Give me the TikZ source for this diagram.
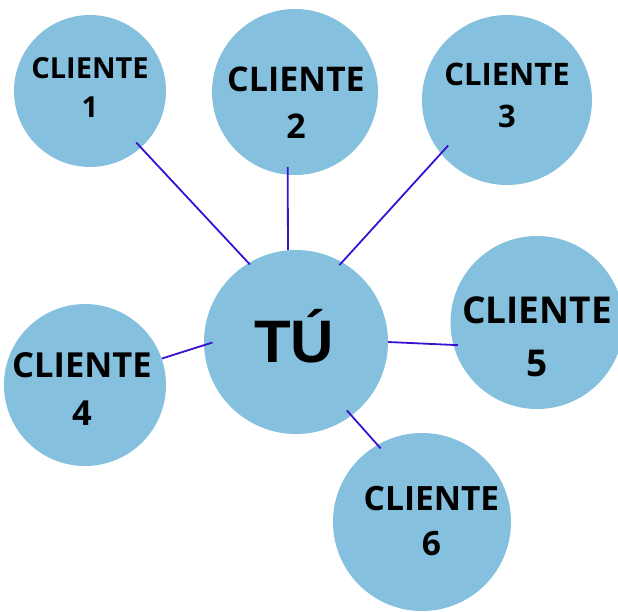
\documentclass[tikz,border=0pt]{standalone}
\usepackage{fontspec}
\setmainfont{Open Sans}
\newfontfamily\tufont{Liberation Sans}
\definecolor{bubblecol}{RGB}{133,193,222}
\definecolor{linkcol}{RGB}{58,16,210}
\begin{document}
\begin{tikzpicture}[x=1pt,y=-1pt,
  bub/.style={circle,fill=bubblecol,inner sep=0pt,minimum size=#1},
  lnk/.style={draw=linkcol,line width=1.8pt},
  ctext/.style 2 args={font=\bfseries\fontsize{#1}{#2}\selectfont,align=center,inner sep=0pt}]
\useasboundingbox (0,0) rectangle (618,611);
\node[bub=152pt] (c1) at (90,91) {};
\node[bub=166pt] (c2) at (295,92) {};
\node[bub=170pt] (c3) at (507,100) {};
\node[bub=184pt] (tu) at (296,342) {};
\node[bub=173pt] (c5) at (537,322.5) {};
\node[bub=162pt] (c4) at (85,385) {};
\node[bub=178pt] (c6) at (422,522) {};
\draw[lnk,shorten <=-7pt,shorten >=-2pt] (c1.-48) -- (tu.121);
\draw[lnk,shorten <=-8pt] (c2.265) -- (tu.95);
\draw[lnk,shorten <=-11pt,shorten >=-4pt] (c3.219.5) -- (tu.60.8);
\draw[lnk,shorten >=-4.6pt] (tu.0) -- (c5.195.2);
\draw[lnk,shorten >=-9pt] (c4.19) -- (tu.182.8);
\draw[lnk,shorten <=-7pt,shorten >=-5pt] (tu.-53.1) -- (c6.120.8);
\node[ctext={29}{39}] (t1) at (90,87.5) {CLIENTE\\1};
\node[ctext={34}{47}] (t2) at (296,102.5) {CLIENTE\\2};
\node[ctext={31}{42}] (t3) at (507,95) {CLIENTE\\3};
\node[ctext={34.5}{47.5}] (t4) at (82,389) {CLIENTE\\4};
\node[ctext={37}{52.5}] (t5) at (537,337) {CLIENTE\\5};
\node[ctext={33.5}{45}] (t6) at (431.5,521.5) {CLIENTE\\6};
\node[font=\tufont\bfseries\fontsize{60}{72}\selectfont,anchor=base,inner sep=0pt] (tut) at (294,362) {TÚ};
\end{tikzpicture}
\end{document}
